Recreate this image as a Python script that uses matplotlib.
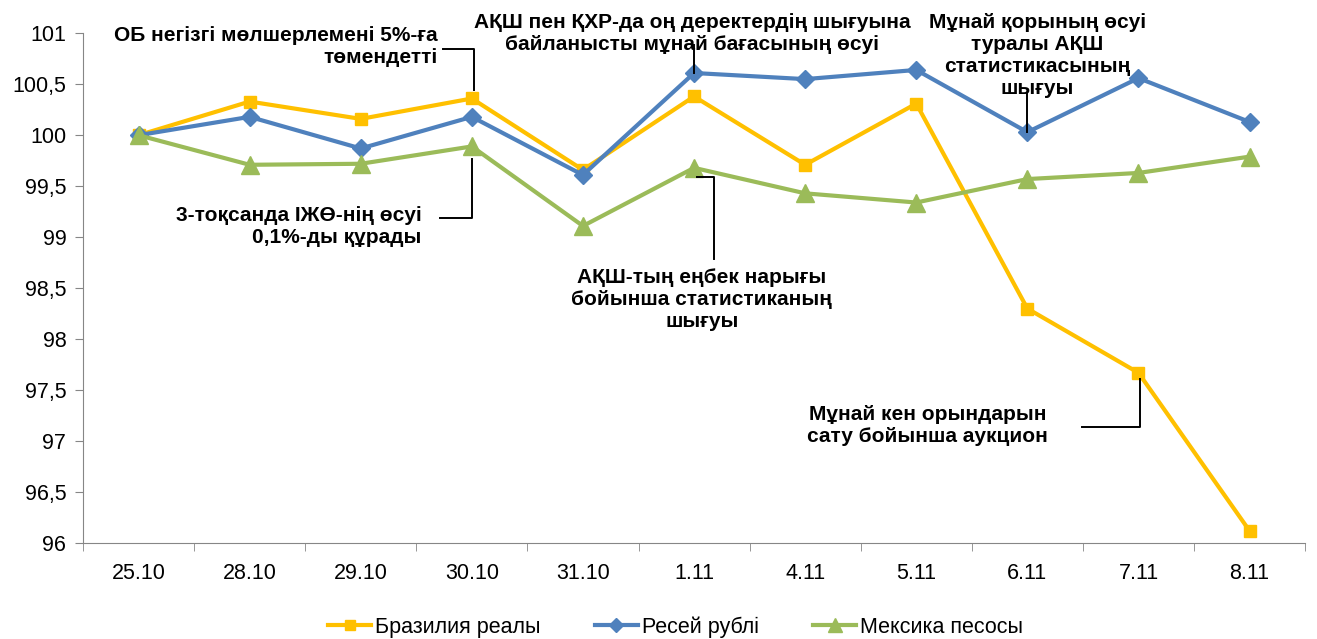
import numpy as np
import matplotlib
matplotlib.use('Agg')
import matplotlib.pyplot as plt
from matplotlib.ticker import FuncFormatter, FixedLocator

plt.rcParams['font.family'] = ['Liberation Sans', 'DejaVu Sans']

# data
dates = ['25.10', '28.10', '29.10', '30.10', '31.10', '1.11', '4.11', '5.11', '6.11', '7.11', '8.11']
brazil = [100.0, 100.33, 100.16, 100.36, 99.66, 100.38, 99.71, 100.31, 98.30, 97.67, 96.12]
russia = [100.0, 100.18, 99.87, 100.18, 99.61, 100.61, 100.55, 100.64, 100.03, 100.56, 100.13]
mexico = [100.0, 99.71, 99.72, 99.89, 99.11, 99.68, 99.43, 99.34, 99.57, 99.63, 99.79]
names = ['Бразилия реалы', 'Ресей рублі', 'Мексика песосы']

x = np.arange(len(dates))

fig = plt.figure(figsize=(13.17, 6.39), dpi=100)
ax = fig.add_axes([0.063, 0.150, 0.928, 0.798])

ax.plot(x, brazil, color='#FFC000', lw=3, marker='s', ms=9, label=names[0])
ax.plot(x, russia, color='#4F81BD', lw=3, marker='D', ms=9.5, label=names[1])
ax.plot(x, mexico, color='#9BBB59', lw=3, marker='^', ms=13, label=names[2])

ax.set_xlim(-0.5, len(dates) - 0.5)
ax.set_ylim(96, 101)
ax.set_yticks(np.arange(96, 101.01, 0.5))
ax.yaxis.set_major_formatter(FuncFormatter(lambda v, p: ('%g' % v).replace('.', ',')))
ax.set_xticks(x)
ax.set_xticklabels(dates)
ax.xaxis.set_minor_locator(FixedLocator(np.arange(-0.5, len(dates), 1.0)))
ax.tick_params(axis='x', which='major', length=0, pad=14, labelsize=15.5)
ax.tick_params(axis='x', which='minor', length=6, color='#868686')
ax.tick_params(axis='y', length=6, color='#868686', labelsize=15.5, pad=6)

for s in ['top', 'right']:
    ax.spines[s].set_visible(False)
for s in ['left', 'bottom']:
    ax.spines[s].set_color('#868686')

# annotations
kw = dict(fontsize=15, fontweight='bold', linespacing=1.2, clip_on=False)
lk = dict(color='black', lw=1.4, clip_on=False)

# 30.10 top
ax.text(2.69, 100.87, 'ОБ негізгі мөлшерлемені 5%-ға\nтөмендетті', ha='right', va='center', **kw)
ax.plot([2.74, 3.02, 3.02], [100.85, 100.85, brazil[3] + 0.08], **lk)

# 30.10 bottom
ax.text(2.55, 99.10, '3-тоқсанда ІЖӨ-нің өсуі\n0,1%-ды құрады', ha='right', va='center', **kw)
ax.plot([3.0, 3.0, 2.71], [mexico[3] - 0.12, 99.19, 99.19], **lk)

# 1.11 top
ax.text(4.98, 101.0, 'АҚШ пен ҚХР-да оң деректердің шығуына\nбайланысты мұнай бағасының өсуі', ha='center', va='center', **kw)
ax.plot([5, 5], [100.88, russia[5]], **lk)

# 6.11 top
ax.text(8.09, 100.78, 'Мұнай қорының өсуі\nтуралы АҚШ\nстатистикасының\nшығуы', ha='center', va='center', **kw)
ax.plot([8, 8], [100.41, russia[8]], **lk)

# 1.11 bottom
ax.text(5.07, 98.39, 'АҚШ-тың еңбек нарығы\nбойынша статистиканың\nшығуы', ha='center', va='center', **kw)
ax.plot([5.03, 5.18, 5.18], [mexico[5] - 0.09, mexico[5] - 0.09, 98.79], **lk)

# 7.11 bottom
ax.text(7.1, 97.15, 'Мұнай кен орындарын\nсату бойынша аукцион', ha='center', va='center', **kw)
ax.plot([9.01, 9.01, 8.49], [brazil[9] - 0.06, 97.14, 97.14], **lk)

ax.legend(loc='upper center', bbox_to_anchor=(0.485, -0.105), ncol=3, frameon=False,
          fontsize=15.5, handlelength=2.0, columnspacing=2.5, handletextpad=0.2,
          markerscale=0.8)

fig.savefig('out.png', dpi=100)
